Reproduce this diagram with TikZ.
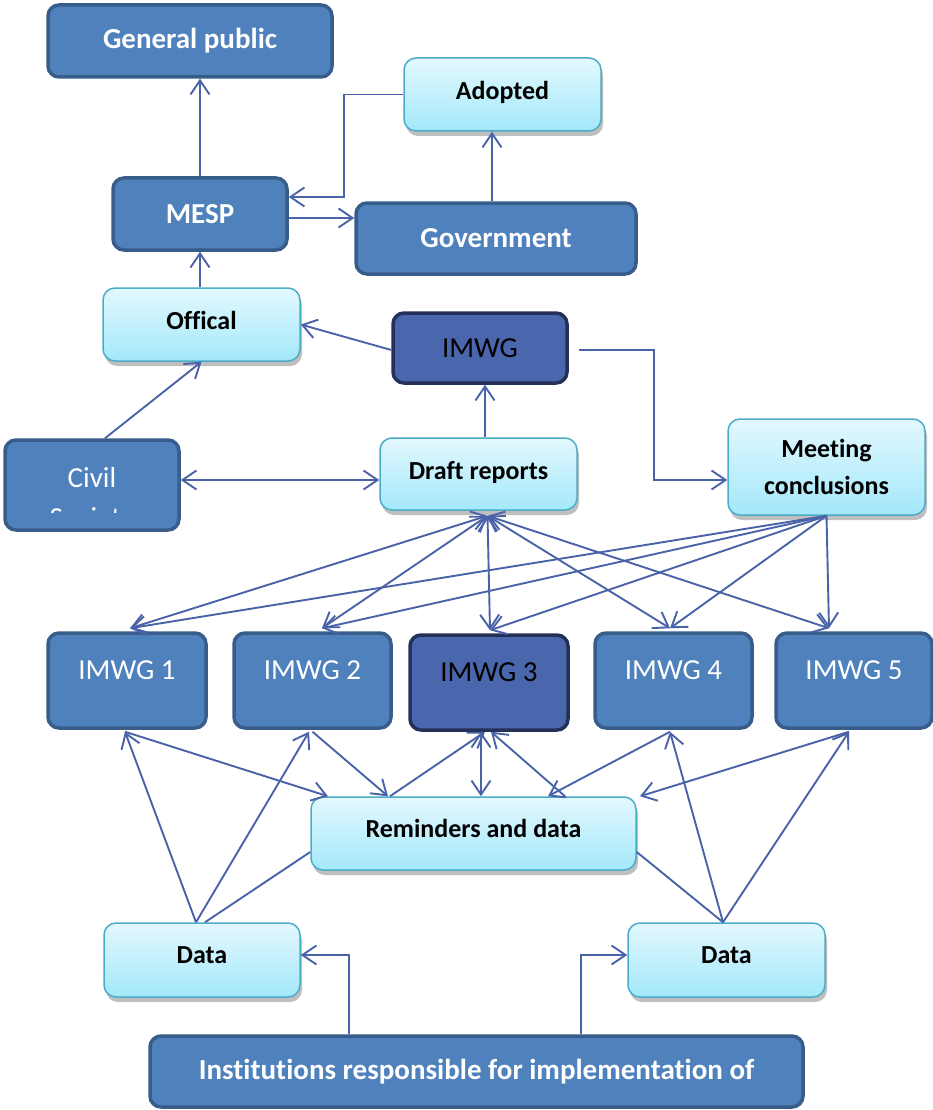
\documentclass[tikz,border=0pt]{standalone}
\usepackage{fontspec}
\setmainfont{Carlito}[Ligatures=NoCommon]
\usetikzlibrary{arrows.meta,shadows}

\definecolor{darkfill}{HTML}{4F81BD}
\definecolor{darkedge}{HTML}{385D8A}
\definecolor{deepfill}{HTML}{4A66AC}
\definecolor{deepedge}{HTML}{233159}
\definecolor{lighttop}{HTML}{E3F8FE}
\definecolor{lightbottom}{HTML}{A3E8FA}
\definecolor{lightedge}{HTML}{4BACC6}
\definecolor{linecol}{HTML}{4A62A8}

\tikzset{
  darkbox/.style={draw=darkedge, fill=darkfill, line width=3.5pt, rounded corners=11pt,
    text=white, font=\bfseries\fontsize{29}{33}\selectfont},
  wgbox/.style={darkbox, font=\fontsize{29}{33}\selectfont},
  deepbox/.style={wgbox, draw=deepedge, fill=deepfill, text=black},
  lightbox/.style={draw=lightedge, top color=lighttop, bottom color=lightbottom,
    line width=1.5pt, rounded corners=12pt, font=\bfseries\fontsize{26}{37}\selectfont,
    drop shadow={shadow xshift=2pt, shadow yshift=-5pt, fill=black!25, opacity=1}},
  arr/.style={draw=linecol, line width=1.9pt, -{Straight Barb[length=14pt,width=19pt]}},
  arrboth/.style={arr, {Straight Barb[length=14pt,width=19pt]}-{Straight Barb[length=14pt,width=19pt]}},
  link/.style={draw=linecol, line width=1.9pt},
}

\begin{document}
\begin{tikzpicture}[x=1pt,y=-1pt]
    \useasboundingbox (0,0) rectangle (933,1110);
    % top boxes
    \node[darkbox, minimum width=284pt, minimum height=72pt] (public) at (190,41) {General public};
    \node[lightbox, minimum width=197pt, minimum height=73pt, text depth=9pt] (adopted) at (502.5,94.5) {Adopted};
    \node[darkbox, minimum width=174pt, minimum height=72pt] (mesp) at (200,214) {MESP};
    \node[darkbox, minimum width=280pt, minimum height=71pt] (govt) at (496,238.5) {Government};
    \node[lightbox, minimum width=197pt, minimum height=73pt, text depth=9pt] (official) at (201.5,324.5) {Offical};
    \node[deepbox, minimum width=174pt, minimum height=70pt] (imwg) at (480,348) {IMWG};
    \node[wgbox, minimum width=174pt, minimum height=90pt, text depth=16pt] (civil) at (92,485) {Civil};
    \begin{scope}
        \clip (5,440) rectangle (179,512);
        \node[text=white, font=\fontsize{29}{33}\selectfont, anchor=base] (soc) at (92,527) {Society};
    \end{scope}
    \node[lightbox, minimum width=197pt, minimum height=72pt, text depth=8pt] (draft) at (478.5,474) {Draft reports};
    \node[lightbox, minimum width=197pt, minimum height=96pt, align=center] (meeting) at (826.5,467) {Meeting\\conclusions};
    % working groups
    \node[wgbox, minimum width=158pt, minimum height=95pt, text depth=20pt] (g1) at (127,680.5) {IMWG 1};
    \node[wgbox, minimum width=157pt, minimum height=95pt, text depth=20pt] (g2) at (312.5,680.5) {IMWG 2};
    \node[deepbox, minimum width=158pt, minimum height=95pt, text depth=20pt] (g3) at (489,682.5) {IMWG 3};
    \node[wgbox, minimum width=157pt, minimum height=95pt, text depth=20pt] (g4) at (673.5,680.5) {IMWG 4};
    \node[wgbox, minimum width=156pt, minimum height=95pt, text depth=20pt] (g5) at (854,680.5) {IMWG 5};
    % bottom boxes
    \node[lightbox, minimum width=325pt, minimum height=73pt, text depth=11pt] (remind) at (473.5,833.5) {Reminders and data};
    \node[lightbox, minimum width=196pt, minimum height=74pt, text depth=10pt] (dataL) at (202,960) {Data};
    \node[lightbox, minimum width=197pt, minimum height=74pt, text depth=10pt] (dataR) at (726.5,960) {Data};
    \node[darkbox, minimum width=653pt, minimum height=71pt] (inst) at (476.5,1071.5) {Institutions responsible for implementation of};

    % upper connectors
    \draw[arr] (mesp.north) -- (mesp.north |- public.south);
    \draw[arr] (adopted.west) -- ++(-59,0) |- ([yshift=17pt]mesp.east);
    \draw[arr] ([yshift=-4pt]mesp.east) -- ([yshift=20.5pt]govt.west);
    \draw[arr] ([xshift=-4pt]govt.north) -- ([xshift=-10.5pt]adopted.south);
    \draw[arr] ([xshift=-1.5pt]official.north) -- (mesp.south);
    \draw[arr] ([yshift=-2pt]imwg.west) -- (official.east);
    \draw[arr] ([xshift=13pt]civil.north) -- (official.south);
    \draw[arrboth] ([yshift=5pt]civil.east) -- ([yshift=-6pt]draft.west);
    \draw[arr] ([xshift=6.5pt]draft.north) -- ([xshift=5pt]imwg.south);
    \draw[arr] ([xshift=10pt,yshift=-2pt]imwg.east) -- ++(75,0) |- ([yshift=-13pt]meeting.west);

    % reports and conclusions to the groups
    \coordinate (drfoot) at ([xshift=9pt,yshift=-5pt]draft.south);
    \foreach \k/\dx in {1/3, 2/9.5, 3/1, 4/-3.5, 5/-25} {
        \draw[arrboth] (drfoot) -- ([xshift=\dx pt,yshift=3pt]g\k.north);
        \draw[arr] (meeting.south) -- ([xshift=\dx pt,yshift=3pt]g\k.north);
    }

    % groups, reminders and data
    \coordinate (dlhead) at ([xshift=-6pt]dataL.north);
    \coordinate (drhead) at ([xshift=-3.5pt]dataR.north);
    \draw[arr] (dlhead) -- ([xshift=-2pt,yshift=-2pt]g1.south);
    \draw[arr] ([xshift=-2pt,yshift=-2pt]g1.south) -- ([xshift=-145.5pt]remind.north);
    \draw[arr] (dlhead) -- ([xshift=-3.5pt,yshift=-2pt]g2.south);
    \draw[arr] ([yshift=-2pt]g2.south) -- ([xshift=-85.5pt]remind.north);
    \draw[arr] ([xshift=-83.5pt]remind.north) -- ([xshift=-4pt]g3.south);
    \draw[arrboth] ([xshift=-8pt]g3.south) -- ([xshift=7.5pt]remind.north);
    \draw[arr] ([xshift=91.5pt]remind.north) -- ([xshift=2pt]g3.south);
    \draw[arr] ([xshift=-3.5pt,yshift=-2pt]g4.south) -- ([xshift=74.5pt]remind.north);
    \draw[arr] (drhead) -- ([xshift=-3.5pt,yshift=-2pt]g4.south);
    \draw[arr] ([xshift=-5pt,yshift=-2pt]g5.south) -- ([xshift=166.5pt]remind.north);
    \draw[arr] (drhead) -- ([xshift=-5pt,yshift=-2pt]g5.south);
    \draw[link] ([yshift=-18.5pt]remind.west) -- ([xshift=3pt]dataL.north);
    \draw[link] ([yshift=-18.5pt]remind.east) -- (drhead);

    % institutions
    \draw[arr] ([xshift=-127.5pt]inst.north) |- ([yshift=5pt]dataL.east);
    \draw[arr] ([xshift=104.5pt]inst.north) |- ([yshift=5pt]dataR.west);
\end{tikzpicture}
\end{document}
